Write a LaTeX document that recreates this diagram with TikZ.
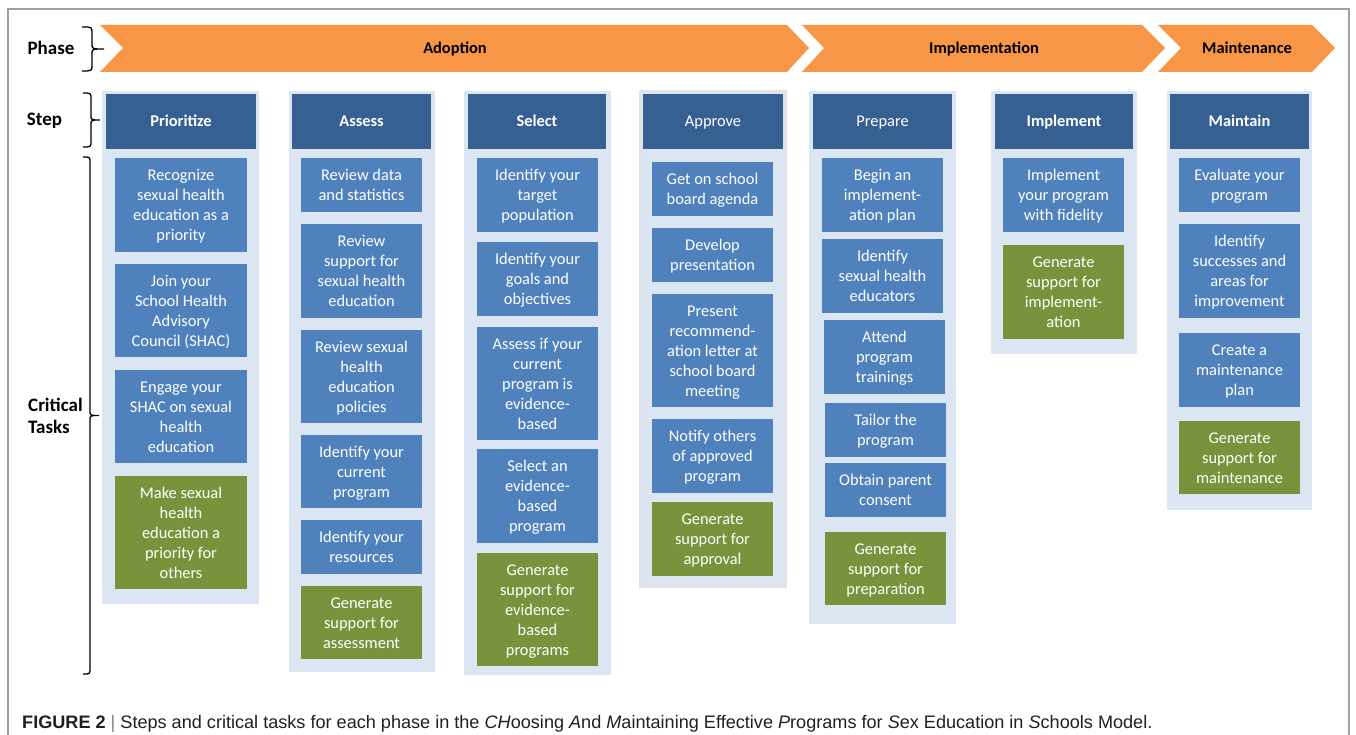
\documentclass[tikz,border=0pt]{standalone}
\usepackage{fontspec}
\setmainfont{Carlito}
\newfontfamily\capfont{Liberation Sans}
\definecolor{phaseorange}{HTML}{F79646}
\definecolor{hdrblue}{HTML}{376092}
\definecolor{taskblue}{HTML}{4F81BD}
\definecolor{taskgreen}{HTML}{77933C}
\definecolor{bgblue}{HTML}{DCE6F2}
\definecolor{lavender}{HTML}{E6E0EC}
\definecolor{framegray}{HTML}{A0A0A0}
\definecolor{capgray}{HTML}{231F20}
\newcommand\tstrut{\rule[-4.5pt]{0pt}{20pt}}
\newcommand\rstrut{\rule[-5pt]{0pt}{22pt}}
\newcommand\bx[7]{\node[#2,minimum width={(#5)-(#3)},minimum height={(#6)-(#4)}] (#1) at ({((#3)+(#5))/2},{((#4)+(#6))/2}) {\tstrut#7\tstrut};}
\newcommand\colbox[4]{\fill[colbg] (#1,#2) rectangle (#3,#4);}
\newcommand\cbrace[5]{\draw[bracestyle] (#1,#4) .. controls (#2,#4) .. (#2,{#4+6}) -- (#2,{(#4+#5)/2-5}) .. controls (#2,{(#4+#5)/2}) .. (#3,{(#4+#5)/2}) .. controls (#2,{(#4+#5)/2}) .. (#2,{(#4+#5)/2+5}) -- (#2,{#5-6}) .. controls (#2,#5) .. (#1,#5);}
\begin{document}
\begin{tikzpicture}[x=1pt,y=-1pt,
  colbg/.style={fill=bgblue},
  hdr/.style={fill=hdrblue, text=white, inner sep=0pt, font=\fontsize{16.4}{20}\selectfont\bfseries},
  hdrn/.style={hdr, font=\fontsize{16.4}{20}\selectfont},
  task/.style={fill=taskblue, text=white, align=center, inner sep=0pt, font=\fontsize{16.4}{20}\selectfont},
  gtask/.style={task, fill=taskgreen},
  phasefill/.style={fill=phaseorange},
  phaselbl/.style={font=\fontsize{16.4}{20}\selectfont\bfseries, inner sep=0pt},
  rowlbl/.style={font=\fontsize{19}{22}\selectfont\bfseries, align=left, inner sep=0pt},
  bracestyle/.style={line width=1.3pt, black}
]
\useasboundingbox (0,0) rectangle (1356,735);
\clip (0,0) rectangle (1356,735);
\fill[white] (0,0) rectangle (1356,735);
\draw[framegray, line width=1.3pt] (8,9) rectangle (1349,760);

% phase chevrons
\fill[phasefill] (100,25) -- (787,25) -- (809,48) -- (787,72) -- (100,72) -- (123,48) -- cycle;
\fill[phasefill] (802,25) -- (1142,25) -- (1165,48) -- (1142,72) -- (802,72) -- (824,48) -- cycle;
\fill[phasefill] (1158,25) -- (1312,25) -- (1335,48) -- (1312,72) -- (1158,72) -- (1181,48) -- cycle;
\node[phaselbl] (adoption) at (455,48.5) {\tstrut Adoption};
\node[phaselbl] (implementation) at (984,48.5) {\tstrut Implementation};
\node[phaselbl] (maintenance) at (1247,48.5) {\tstrut Maintenance};

% row labels and braces
\node[rowlbl] (phase) at (51,49) {\rstrut Phase};
\node[rowlbl] (step) at (44.5,120) {\rstrut Step};
\node[rowlbl, anchor=west] (tasks) at (28,416) {\rstrut Critical\\Tasks\rstrut};
\cbrace{82}{92}{104}{27}{71}
\cbrace{83}{91}{100}{93}{147}
\cbrace{83}{90}{99}{157}{674}

% column backgrounds
\colbox{102}{91}{259}{604}
\colbox{289}{91}{435}{672}
\colbox{464}{91}{611}{675}
\fill[colbg, draw=lavender, line width=1.5pt] (640,91) rectangle (786,587);
\colbox{809}{91}{956}{624}
\colbox{991}{91}{1137}{354}
\colbox{1167}{91}{1312}{510}

% headers
\bx{h1}{hdr}{106}{94}{256}{149}{Prioritize}
\bx{h2}{hdr}{292}{94}{431}{149}{Assess}
\bx{h3}{hdr}{468}{94}{606}{149}{Select}
\bx{h4}{hdrn}{643}{94}{783}{149}{Approve}
\bx{h5}{hdrn}{813}{94}{952}{149}{Prepare}
\bx{h6}{hdr}{995}{94}{1133}{149}{Implement}
\bx{h7}{hdr}{1170}{94}{1309}{149}{Maintain}

% Prioritize
\bx{p1}{task}{115}{158}{247}{252}{Recognize\\sexual health\\education as a\\priority}
\bx{p2}{task}{115}{264}{247}{357}{Join your\\School Health\\Advisory\\Council (SHAC)}
\bx{p3}{task}{115}{370}{247}{463}{Engage your\\SHAC on sexual\\health\\education}
\bx{p4}{gtask}{115}{476}{247}{589}{Make sexual\\health\\education a\\priority for\\others}

% Assess
\bx{a1}{task}{301}{158}{422}{212}{Review data\\and statistics}
\bx{a2}{task}{301}{224}{422}{318}{Review\\support for\\sexual health\\education}
\bx{a3}{task}{301}{330}{422}{423}{Review sexual\\health\\education\\policies}
\bx{a4}{task}{301}{435}{422}{508}{Identify your\\current\\program}
\bx{a5}{task}{301}{520}{422}{574}{Identify your\\resources}
\bx{a6}{gtask}{301}{586}{422}{659}{Generate\\support for\\assessment}

% Select
\bx{s1}{task}{477}{158}{598}{232}{Identify your\\target\\population}
\bx{s2}{task}{477}{242}{598}{316}{Identify your\\goals and\\objectives}
\bx{s3}{task}{477}{327}{598}{440}{Assess if your\\current\\program is\\evidence-\\based}
\bx{s4}{task}{477}{449}{598}{543}{Select an\\evidence-\\based\\program}
\bx{s5}{gtask}{477}{553}{598}{666}{Generate\\support for\\evidence-\\based\\programs}

% Approve
\bx{r1}{task}{652}{162}{773}{216}{Get on school\\board agenda}
\bx{r2}{task}{652}{228}{773}{282}{Develop\\presentation}
\bx{r3}{task}{652}{294}{773}{407}{Present\\recommend-\\ation letter at\\school board\\meeting}
\bx{r4}{task}{652}{419}{773}{493}{Notify others\\of approved\\program}
\bx{r5}{gtask}{652}{502}{773}{576}{Generate\\support for\\approval}

% Prepare
\bx{q1}{task}{822}{158}{943}{232}{Begin an\\implement-\\ation plan}
\bx{q2}{task}{822}{239}{943}{313}{Identify\\sexual health\\educators}
\bx{q3}{task}{824}{320}{945}{394}{Attend\\program\\trainings}
\bx{q4}{task}{825}{403}{946}{457}{Tailor the\\program}
\bx{q5}{task}{825}{463}{946}{517}{Obtain parent\\consent}
\bx{q6}{gtask}{825}{532}{946}{605}{Generate\\support for\\preparation}

% Implement
\bx{i1}{task}{1003}{158}{1124}{232}{Implement\\your program\\with fidelity}
\bx{i2}{gtask}{1003}{245}{1124}{339}{Generate\\support for\\implement-\\ation}

% Maintain
\bx{m1}{task}{1179}{158}{1300}{212}{Evaluate your\\program}
\bx{m2}{task}{1179}{224}{1300}{318}{Identify\\successes and\\areas for\\improvement}
\bx{m3}{task}{1179}{333}{1300}{407}{Create a\\maintenance\\plan}
\bx{m4}{gtask}{1179}{421}{1300}{494}{Generate\\support for\\maintenance}

% caption
\node[anchor=base west, inner sep=0pt, text=capgray, font=\capfont\fontsize{18.1}{22}\selectfont] (caption) at (22,728)
 {\textbf{FIGURE 2} {\color{gray}|} Steps and critical tasks for each phase in the \textit{CH}oosing \textit{A}nd \textit{M}aintaining Effective \textit{P}rograms for \textit{S}ex Education in \textit{S}chools Model.};
\end{tikzpicture}
\end{document}
